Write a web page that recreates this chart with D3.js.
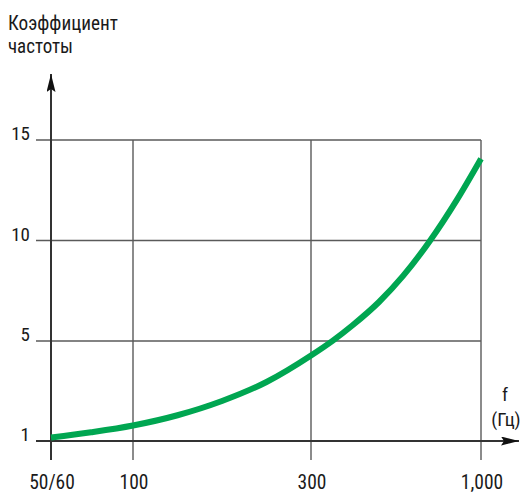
<!DOCTYPE html>
<html>
<head>
<meta charset="utf-8">
<script src="https://cdn.jsdelivr.net/npm/d3@7"></script>
<style>
  body { margin: 0; background: #fff; }
  text { font-family: "Liberation Sans Narrow", "Roboto Condensed", "Liberation Sans", sans-serif; fill: #1a1a1a; }
</style>
</head>
<body>
<div id="chart"></div>
<script>
// tick values and labels
const xTicks = [55, 100, 300, 1000];
const xTickLabels = ["50/60", "100", "300", "1,000"];
const yTicks = [1, 5, 10, 15];
const yTickLabels = ["1", "5", "10", "15"];

// curve
const freq = [55, 77, 100, 150, 200, 250, 300, 390, 470, 580, 680, 790, 900, 1000];
const coef = [1.14, 1.35, 1.62, 2.03, 2.60, 3.36, 4.42, 5.02, 5.77, 6.94, 8.25, 9.99, 12.01, 14.07];

const width = 521, height = 494;

const svg = d3.select("#chart")
    .append("svg")
    .attr("width", width)
    .attr("height", height);

// the original axes are not evenly spaced, so every tick gets its own place
const x = d3.scaleLinear()
    .domain(xTicks)
    .range([51, 133, 311, 481]);

const y = d3.scaleLinear()
    .domain(yTicks)
    .range([441, 341, 240.5, 140]);

const defs = svg.append("defs");
defs.append("marker")
    .attr("id", "arrow")
    .attr("viewBox", "0 0 18 9")
    .attr("refX", 18)
    .attr("refY", 4.5)
    .attr("markerWidth", 18)
    .attr("markerHeight", 9)
    .attr("markerUnits", "userSpaceOnUse")
    .attr("orient", "auto")
    .append("path")
    .attr("d", "M0,0 L18,4.5 L0,9 L3,4.5 Z")
    .attr("fill", "#111");

// horizontal grid
svg.selectAll(".hgrid")
    .data(yTicks.slice(1))
    .join("line")
    .attr("class", "hgrid")
    .attr("x1", 36)
    .attr("x2", x(1000))
    .attr("y1", d => y(d))
    .attr("y2", d => y(d))
    .attr("stroke", "#5a5a5a")
    .attr("stroke-width", 1.4);

// vertical grid
svg.selectAll(".vgrid")
    .data(xTicks.slice(1))
    .join("line")
    .attr("class", "vgrid")
    .attr("x1", d => x(d))
    .attr("x2", d => x(d))
    .attr("y1", y(15))
    .attr("y2", 460)
    .attr("stroke", "#5a5a5a")
    .attr("stroke-width", 1.4);

// axes with arrows
svg.append("line")
    .attr("x1", 36)
    .attr("x2", 519)
    .attr("y1", y(1))
    .attr("y2", y(1))
    .attr("stroke", "#333")
    .attr("stroke-width", 1.8)
    .attr("marker-end", "url(#arrow)");

svg.append("line")
    .attr("x1", x(55))
    .attr("x2", x(55))
    .attr("y1", 460)
    .attr("y2", 74)
    .attr("stroke", "#333")
    .attr("stroke-width", 2)
    .attr("marker-end", "url(#arrow)");

// tick labels
svg.selectAll(".ylab")
    .data(yTicks)
    .join("text")
    .attr("class", "ylab")
    .attr("x", 30)
    .attr("y", d => y(d))
    .attr("text-anchor", "end")
    .style("font-size", "19px")
    .text((d, i) => yTickLabels[i]);

svg.selectAll(".xlab")
    .data(xTicks)
    .join("text")
    .attr("class", "xlab")
    .attr("x", d => x(d) + 1)
    .attr("y", 489)
    .attr("text-anchor", "middle")
    .style("font-size", "19.5px")
    .text((d, i) => xTickLabels[i]);

// axis titles
svg.append("text")
    .attr("x", 8)
    .attr("y", 30)
    .attr("textLength", 110)
    .attr("lengthAdjust", "spacingAndGlyphs")
    .style("font-size", "21px")
    .text("Коэффициент");

svg.append("text")
    .attr("x", 8)
    .attr("y", 53)
    .attr("textLength", 65)
    .attr("lengthAdjust", "spacingAndGlyphs")
    .style("font-size", "21px")
    .text("частоты");

svg.append("text")
    .attr("x", 505)
    .attr("y", 401)
    .attr("text-anchor", "middle")
    .style("font-size", "19px")
    .text("f");

svg.append("text")
    .attr("x", 506)
    .attr("y", 426)
    .attr("text-anchor", "middle")
    .style("font-size", "19px")
    .text("(Гц)");

// curve
const data = freq.map((f, i) => ({ f: f, k: coef[i] }));

svg.append("path")
    .datum(data)
    .attr("d", d3.line()
        .x(d => x(d.f))
        .y(d => y(d.k))
        .curve(d3.curveMonotoneX))
    .attr("fill", "none")
    .attr("stroke", "#00a651")
    .attr("stroke-width", 6);
</script>
</body>
</html>
